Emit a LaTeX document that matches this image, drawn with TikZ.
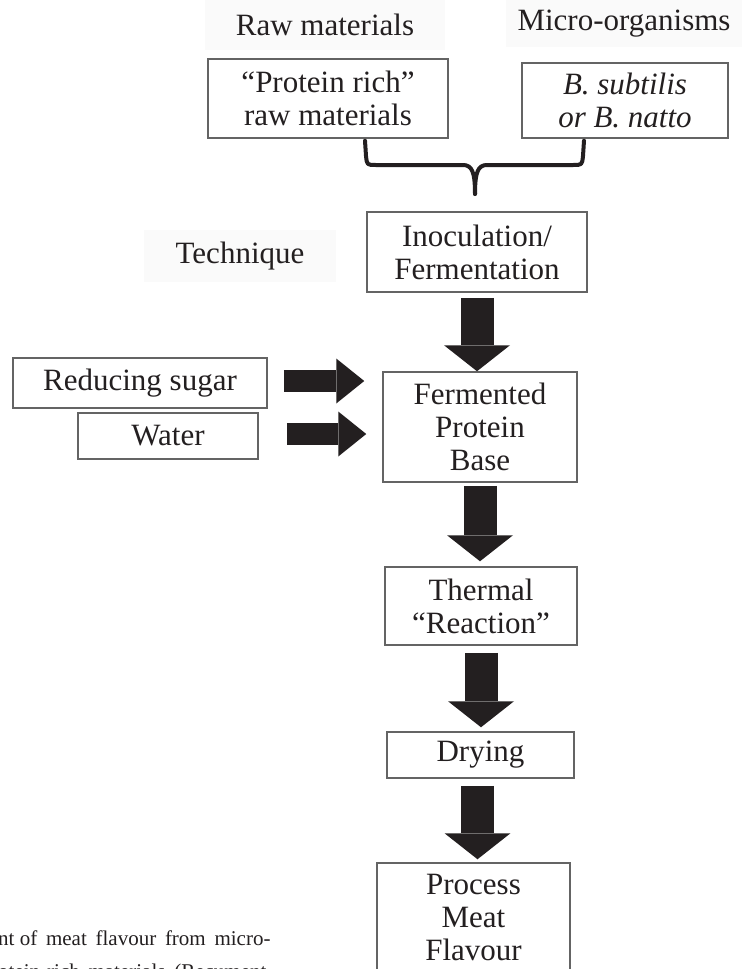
\documentclass[tikz,border=0pt]{standalone}
\usepackage{fontspec}
\setmainfont{Liberation Serif}
\usetikzlibrary{calc,arrows.meta,positioning}
\definecolor{flowink}{RGB}{35,31,32}
\definecolor{flowframe}{RGB}{100,100,100}
\definecolor{flowshade}{RGB}{250,250,250}
\tikzset{
  stepbox/.style={rectangle, draw=flowframe, line width=1.5pt, fill=white,
                  inner sep=0pt, align=center, text=flowink},
  headlbl/.style={rectangle, fill=flowshade, inner sep=0pt, text=flowink},
  bigarrow/.style={line width=33pt, flowink,
                   -{Triangle[length=26pt, width=66pt, line width=0pt]}},
  sidearrow/.style={line width=22pt, flowink,
                    -{Triangle[length=28pt, width=45pt, line width=0pt]}},
  curly/.style={line width=4pt, flowink, line cap=round, line join=round},
  captext/.style={anchor=base west, inner sep=0pt, text=flowink,
                  font=\fontsize{21}{23}\selectfont},
}

\begin{document}
\begin{tikzpicture}[x=1pt, y=-1pt, font=\fontsize{31}{33}\selectfont]
    \fill[white] (0,0) rectangle (742,969);
    \clip (0,0) rectangle (742,969);
    % column headings
    \node[headlbl, minimum width=240pt, minimum height=50pt] (rawlbl) at (325,25) {Raw materials};
    \node[headlbl, minimum width=236pt, minimum height=47pt] (microlbl) at (624,23.5) {Micro-organisms};
    \node[headlbl, minimum width=192pt, minimum height=52pt] (techlbl) at (240,256) {Technique};
    % inputs
    \node[stepbox, minimum width=240pt, minimum height=79pt] (protein) at (328,98.5) {“Protein rich”\\raw materials};
    \node[stepbox, minimum width=206pt, minimum height=75pt] (microbe) at (625,100.5) {\textit{B. subtilis}\\\textit{or B. natto}};
    % process chain
    \node[stepbox, minimum width=220pt, minimum height=80pt] (inoc) at (477,252) {Inoculation/\\Fermentation};
    \node[stepbox, minimum width=194pt, minimum height=110pt] (base) at (480,427) {Fermented\\Protein\\Base};
    \node[stepbox, minimum width=254pt, minimum height=50pt] (sugar) at (140,383) {Reducing sugar};
    \node[stepbox, minimum width=180pt, minimum height=46pt] (water) at (168,436) {Water};
    \node[stepbox, minimum width=192pt, minimum height=78pt] (thermal) at (481,606) {Thermal\\“Reaction”};
    \node[stepbox, minimum width=187pt, minimum height=46pt] (drying) at (480.5,755) {Drying};
    \node[stepbox, minimum width=193pt, minimum height=108pt] (flavour) at (473.5,917) {Process\\Meat\\Flavour};
    % brace joining the two inputs
    \coordinate (bl) at ($(protein.south)+(37,2)$);
    \coordinate (br) at ($(microbe.south)+(-41,2)$);
    \coordinate (bracetip) at (475,194);
    \draw[curly] (bl) -- (366,156) .. controls (367,165) .. (376,165) -- (463,165)
                 .. controls (472,165) and (475,172) .. (bracetip);
    \draw[curly] (br) -- (583,156) .. controls (582,165) .. (573,165) -- (487,165)
                 .. controls (478,165) and (475,172) .. (bracetip);
    % block arrows
    \draw[bigarrow] ($(inoc.south)+(0,5)$) -- (inoc.south |- base.north);
    \draw[bigarrow] ($(base.south)+(0,3)$) -- ($(base.south |- thermal.north)+(0,-5)$);
    \draw[bigarrow] ($(thermal.south)+(0,7)$) -- ($(thermal.south |- drying.north)+(0,-4)$);
    \draw[bigarrow] ($(drying.south)+(-3,7)$) -- ($(drying.south |- flavour.north)+(-3,-3)$);
    \draw[sidearrow] ($(sugar.east)+(16,-2)$) -- ($(sugar.east -| base.west)+(-18,-2)$);
    \draw[sidearrow] ($(water.east)+(28,-2)$) -- ($(water.east -| base.west)+(-16,-2)$);
    % caption fragment
    \node[captext] (cap1) at (-2,945) {nt of\, meat\, flavour\, from\, micro-};
    \node[captext] (cap2) at (-2,978) {otein-rich\, materials\, (Recument};
\end{tikzpicture}
\end{document}
